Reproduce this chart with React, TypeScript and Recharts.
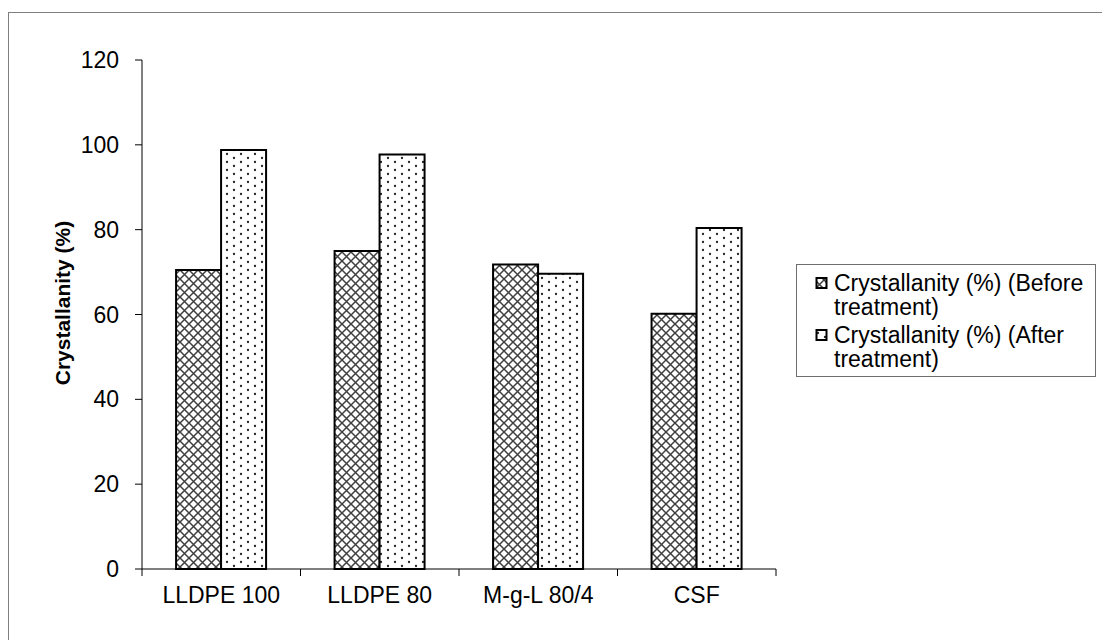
import { BarChart, Bar, XAxis, YAxis } from "recharts";

const categories = ["LLDPE 100", "LLDPE 80", "M-g-L 80/4", "CSF"];
const beforeValues = [70.5, 75.0, 71.8, 60.2];
const afterValues = [98.8, 97.7, 69.6, 80.4];
const yTicks = [0, 20, 40, 60, 80, 100, 120];
const seriesNames = ["Crystallanity (%) (Before treatment)", "Crystallanity (%) (After treatment)"];
const legendLines = [
  ["Crystallanity (%) (Before", "treatment)"],
  ["Crystallanity (%) (After", "treatment)"],
];

const data = categories.map((name, i) => ({
  name,
  before: beforeValues[i],
  after: afterValues[i],
}));

const FONT = "'Liberation Sans', Arial, sans-serif";
const PLOT_LEFT = 142;
const PLOT_RIGHT = 776;
const BAND = (PLOT_RIGHT - PLOT_LEFT) / categories.length;
const fills = ["url(#cross)", "url(#dots)"];

function XTick(props: any) {
  const { x, y, payload, index } = props;
  const left = x - BAND / 2;
  return (
    <g>
      <line x1={left} y1={y - 8} x2={left} y2={y - 1} stroke="#000" strokeWidth={1} />
      {index === categories.length - 1 && (
        <line x1={x + BAND / 2} y1={y - 8} x2={x + BAND / 2} y2={y - 1} stroke="#000" strokeWidth={1} />
      )}
      <text x={x} y={y + 26} textAnchor="middle" fontFamily={FONT} fontSize={23} fill="#000">
        {payload.value}
      </text>
    </g>
  );
}

function LegendBox() {
  return (
    <div
      style={{
        position: "absolute",
        left: 796,
        top: 264,
        border: "1px solid #6e6e6e",
        width: 300,
        height: 113,
        boxSizing: "border-box",
        padding: "6px 0 0 18px",
        fontFamily: FONT,
        fontSize: 23,
        lineHeight: "24px",
        color: "#000",
        background: "#fff",
      }}
    >
      {seriesNames.map((name, i) => (
        <div key={name} title={name} style={{ display: "flex", alignItems: "flex-start", marginBottom: 4 }}>
          <svg width={14} height={24} style={{ flex: "none", marginRight: 5 }}>
            <rect x={1.5} y={7} width={10} height={10} fill={fills[i]} stroke="#000" strokeWidth={2} />
          </svg>
          <div>
            {legendLines[i][0]}
            <br />
            {legendLines[i][1]}
          </div>
        </div>
      ))}
    </div>
  );
}

export default function App() {
  return (
    <div style={{ position: "absolute", left: 0, top: 0, width: 1102, height: 640, background: "#fff", overflow: "hidden" }}>
      <div
        style={{
          position: "absolute",
          left: 8,
          top: 12,
          width: 1200,
          height: 700,
          border: "1px solid #7f7f7f",
        }}
      />
      <div style={{ position: "absolute", left: 0, top: 0 }}>
        <BarChart
          width={1102}
          height={640}
          data={data}
          margin={{ top: 60, right: 1102 - PLOT_RIGHT, bottom: 0, left: 0 }}
          barCategoryGap="21.5%"
          barGap={0}
        >
          <defs>
            <pattern id="cross" width={9} height={9} patternUnits="userSpaceOnUse">
              <rect width={9} height={9} fill="#fff" />
              <path d="M0,0 L9,9 M9,0 L0,9" stroke="#404040" strokeWidth={1.5} />
            </pattern>
            <pattern id="dots" width={14} height={8} patternUnits="userSpaceOnUse">
              <rect width={14} height={8} fill="#fff" />
              <circle cx={3} cy={2} r={1.15} fill="#222" />
              <circle cx={10} cy={6} r={1.15} fill="#222" />
            </pattern>
          </defs>
          <XAxis
            dataKey="name"
            height={71}
            axisLine={{ stroke: "#000", strokeWidth: 1 }}
            tickLine={false}
            tick={<XTick />}
            interval={0}
          />
          <YAxis
            width={PLOT_LEFT}
            domain={[0, 120]}
            ticks={yTicks}
            interval={0}
            axisLine={{ stroke: "#000", strokeWidth: 1 }}
            tickLine={{ stroke: "#000" }}
            tickSize={7}
            tickMargin={16}
            tick={{ fontFamily: FONT, fontSize: 23, fill: "#000" }}
            label={() => (
              <text
                x={70}
                y={303}
                transform="rotate(-90 70 303)"
                textAnchor="middle"
                fontFamily={FONT}
                fontSize={21}
                fontWeight="bold"
                fill="#000"
              >
                Crystallanity (%)
              </text>
            )}
          />
          <Bar
            dataKey="before"
            name={seriesNames[0]}
            fill={fills[0]}
            stroke="#000"
            strokeWidth={2}
            isAnimationActive={false}
          />
          <Bar
            dataKey="after"
            name={seriesNames[1]}
            fill={fills[1]}
            stroke="#000"
            strokeWidth={2}
            isAnimationActive={false}
          />
        </BarChart>
      </div>
      <LegendBox />
    </div>
  );
}
